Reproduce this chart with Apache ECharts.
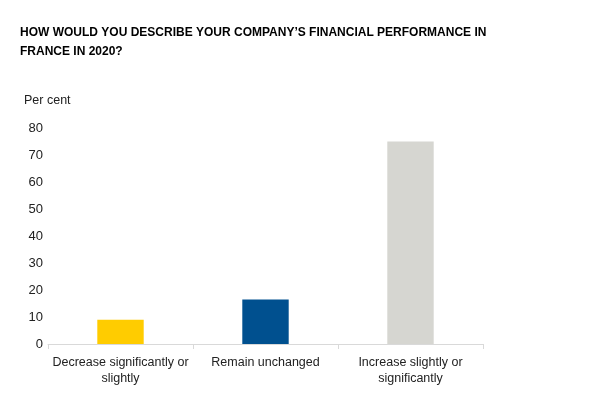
<!DOCTYPE html>
<html><head><meta charset="utf-8">
<script src="https://cdn.jsdelivr.net/npm/echarts@6/dist/echarts.min.js"></script>
<style>html,body{margin:0;padding:0;background:#fff}#c{width:600px;height:400px}</style>
</head><body><div id="c"></div>
<script>
const categories = ['Decrease significantly or\nslightly', 'Remain unchanged', 'Increase slightly or\nsignificantly'];
const values = [9, 16.5, 75];
const barColors = ['#FFCC00', '#00508F', '#D6D6D1'];
const yTicks = [0, 10, 20, 30, 40, 50, 60, 70, 80];
const titleText = 'HOW WOULD YOU DESCRIBE YOUR COMPANY\u2019S FINANCIAL PERFORMANCE IN\nFRANCE IN 2020?';
const unitText = 'Per cent';
const FONT = '"Liberation Sans", Arial, sans-serif';

const chart = echarts.init(document.getElementById('c'), null, {renderer: 'canvas'});
chart.setOption({
  animation: false,
  title: [{
    text: titleText, left: 15, top: 18,
    textStyle: {fontFamily: FONT, fontSize: 12, fontWeight: 'bold', color: '#000', lineHeight: 19}
  }, {
    text: unitText, left: 19, top: 89,
    textStyle: {fontFamily: FONT, fontSize: 12.5, fontWeight: 'normal', color: '#222'}
  }],
  grid: {left: 48, right: 117, top: 128, bottom: 56, containLabel: false},
  xAxis: {
    type: 'category', data: categories,
    axisLine: {lineStyle: {color: '#d9d9d9', width: 1}},
    axisTick: {show: true, alignWithLabel: false, length: 5, lineStyle: {color: '#d9d9d9'}},
    axisLabel: {fontFamily: FONT, fontSize: 12.5, color: '#222', lineHeight: 16, margin: 11, interval: 0}
  },
  yAxis: {
    type: 'value', min: yTicks[0], max: yTicks[yTicks.length - 1], interval: 10,
    axisLine: {show: false}, axisTick: {show: false}, splitLine: {show: false},
    axisLabel: {fontFamily: FONT, fontSize: 13, color: '#222', margin: 5}
  },
  series: [{
    type: 'bar', barWidth: '32%',
    data: values.map((v, i) => ({value: v, itemStyle: {color: barColors[i]}}))
  }]
});
</script></body></html>
